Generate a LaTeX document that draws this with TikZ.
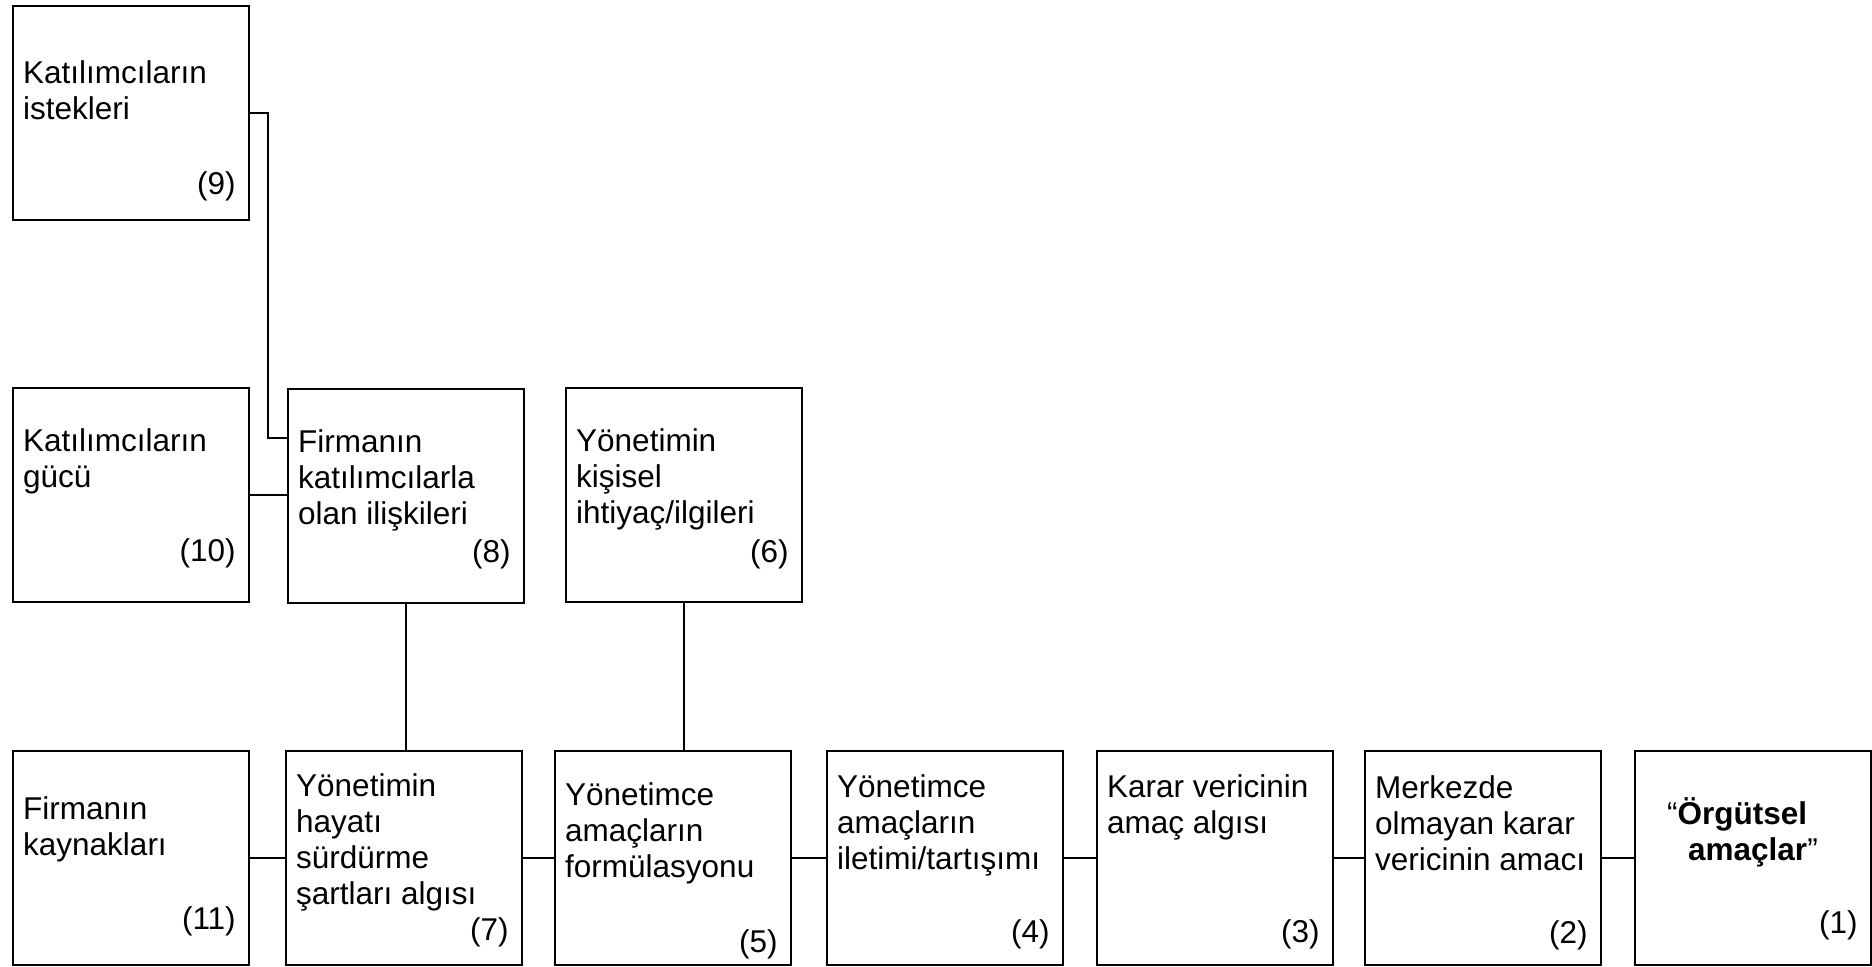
\documentclass[tikz,border=0pt]{standalone}
\usepackage{fontspec}
\setmainfont{Liberation Sans}
\tikzset{
  blk/.style={draw, line width=2.4bp, inner sep=0pt, anchor=north west,
    font=\fontsize{31.5bp}{36bp}\selectfont},
  link/.style={line width=2.2bp},
}
\newcommand{\blktext}[4]{\parbox[c][213.5bp][t]{235.5bp}{\parskip=0pt\leftskip=10bp\rightskip=13bp plus 1fil\parfillskip=0pt plus 1fil\vskip#1\hbox{}#2\par\leftskip=10bp\rightskip=13bp\parfillskip=0pt\vfill\hfill #3\strut\par\vskip#4}}
\begin{document}
\begin{tikzpicture}[x=1bp, y=-1bp]
\useasboundingbox (0,0) rectangle (1872,966);
% top
\node[blk] (n9) at (12,5) {\blktext{41bp}{\mbox{Katılımcıların}\\\mbox{istekleri}}{(9)}{14bp}};
% middle
\node[blk] (n10) at (12,387) {\blktext{27bp}{\mbox{Katılımcıların}\\\mbox{gücü}}{(10)}{29bp}};
\node[blk] (n8) at (287,388) {\blktext{27bp}{\mbox{Firmanın}\\\mbox{katılımcılarla}\\\mbox{olan ilişkileri}}{(8)}{29bp}};
\node[blk] (n6) at (565,387) {\blktext{27bp}{\mbox{Yönetimin}\\\mbox{kişisel}\\\mbox{ihtiyaç/ilgileri}}{(6)}{28bp}};
% bottom
\node[blk] (n11) at (12,750) {\blktext{32bp}{\mbox{Firmanın}\\\mbox{kaynakları}}{(11)}{24bp}};
\node[blk] (n7) at (285,750) {\blktext{9bp}{\mbox{Yönetimin}\\\mbox{hayatı}\\\mbox{sürdürme}\\\mbox{şartları algısı}}{(7)}{13bp}};
\node[blk] (n5) at (554,750) {\blktext{18bp}{\mbox{Yönetimce}\\\mbox{amaçların}\\\mbox{formülasyonu}}{(5)}{1bp}};
\node[blk] (n4) at (826,750) {\blktext{10bp}{\mbox{Yönetimce}\\\mbox{amaçların}\\\mbox{iletimi/tartışımı}}{(4)}{11bp}};
\node[blk] (n3) at (1096,750) {\blktext{10bp}{\mbox{Karar vericinin}\\\mbox{amaç algısı}}{(3)}{11bp}};
\node[blk] (n2) at (1364,750) {\blktext{11bp}{\mbox{Merkezde}\\\mbox{olmayan karar}\\\mbox{vericinin amacı}}{(2)}{10bp}};
\node[blk] (n1) at (1634,750) {\blktext{37bp}{\leftskip=0pt plus 1fil\rightskip=0pt plus 1fil\parfillskip=0pt\mbox{“\textbf{Örgütsel}}\\\mbox{\textbf{amaçlar}”}}{(1)}{20bp}};
% connectors
\coordinate (c98) at (268,438);
\draw[link] (n9.east) -| (c98) -- (c98 -| n8.west);
\draw[link] (n10.east) -- (n10.east -| n8.west);
\draw[link] (n8.south) -- (n8.south |- n7.north);
\draw[link] (n6.south) -- (n6.south |- n5.north);
\draw[link] (n11) -- (n7);
\draw[link] (n7) -- (n5);
\draw[link] (n5) -- (n4);
\draw[link] (n4) -- (n3);
\draw[link] (n3) -- (n2);
\draw[link] (n2) -- (n1);
\end{tikzpicture}
\end{document}
